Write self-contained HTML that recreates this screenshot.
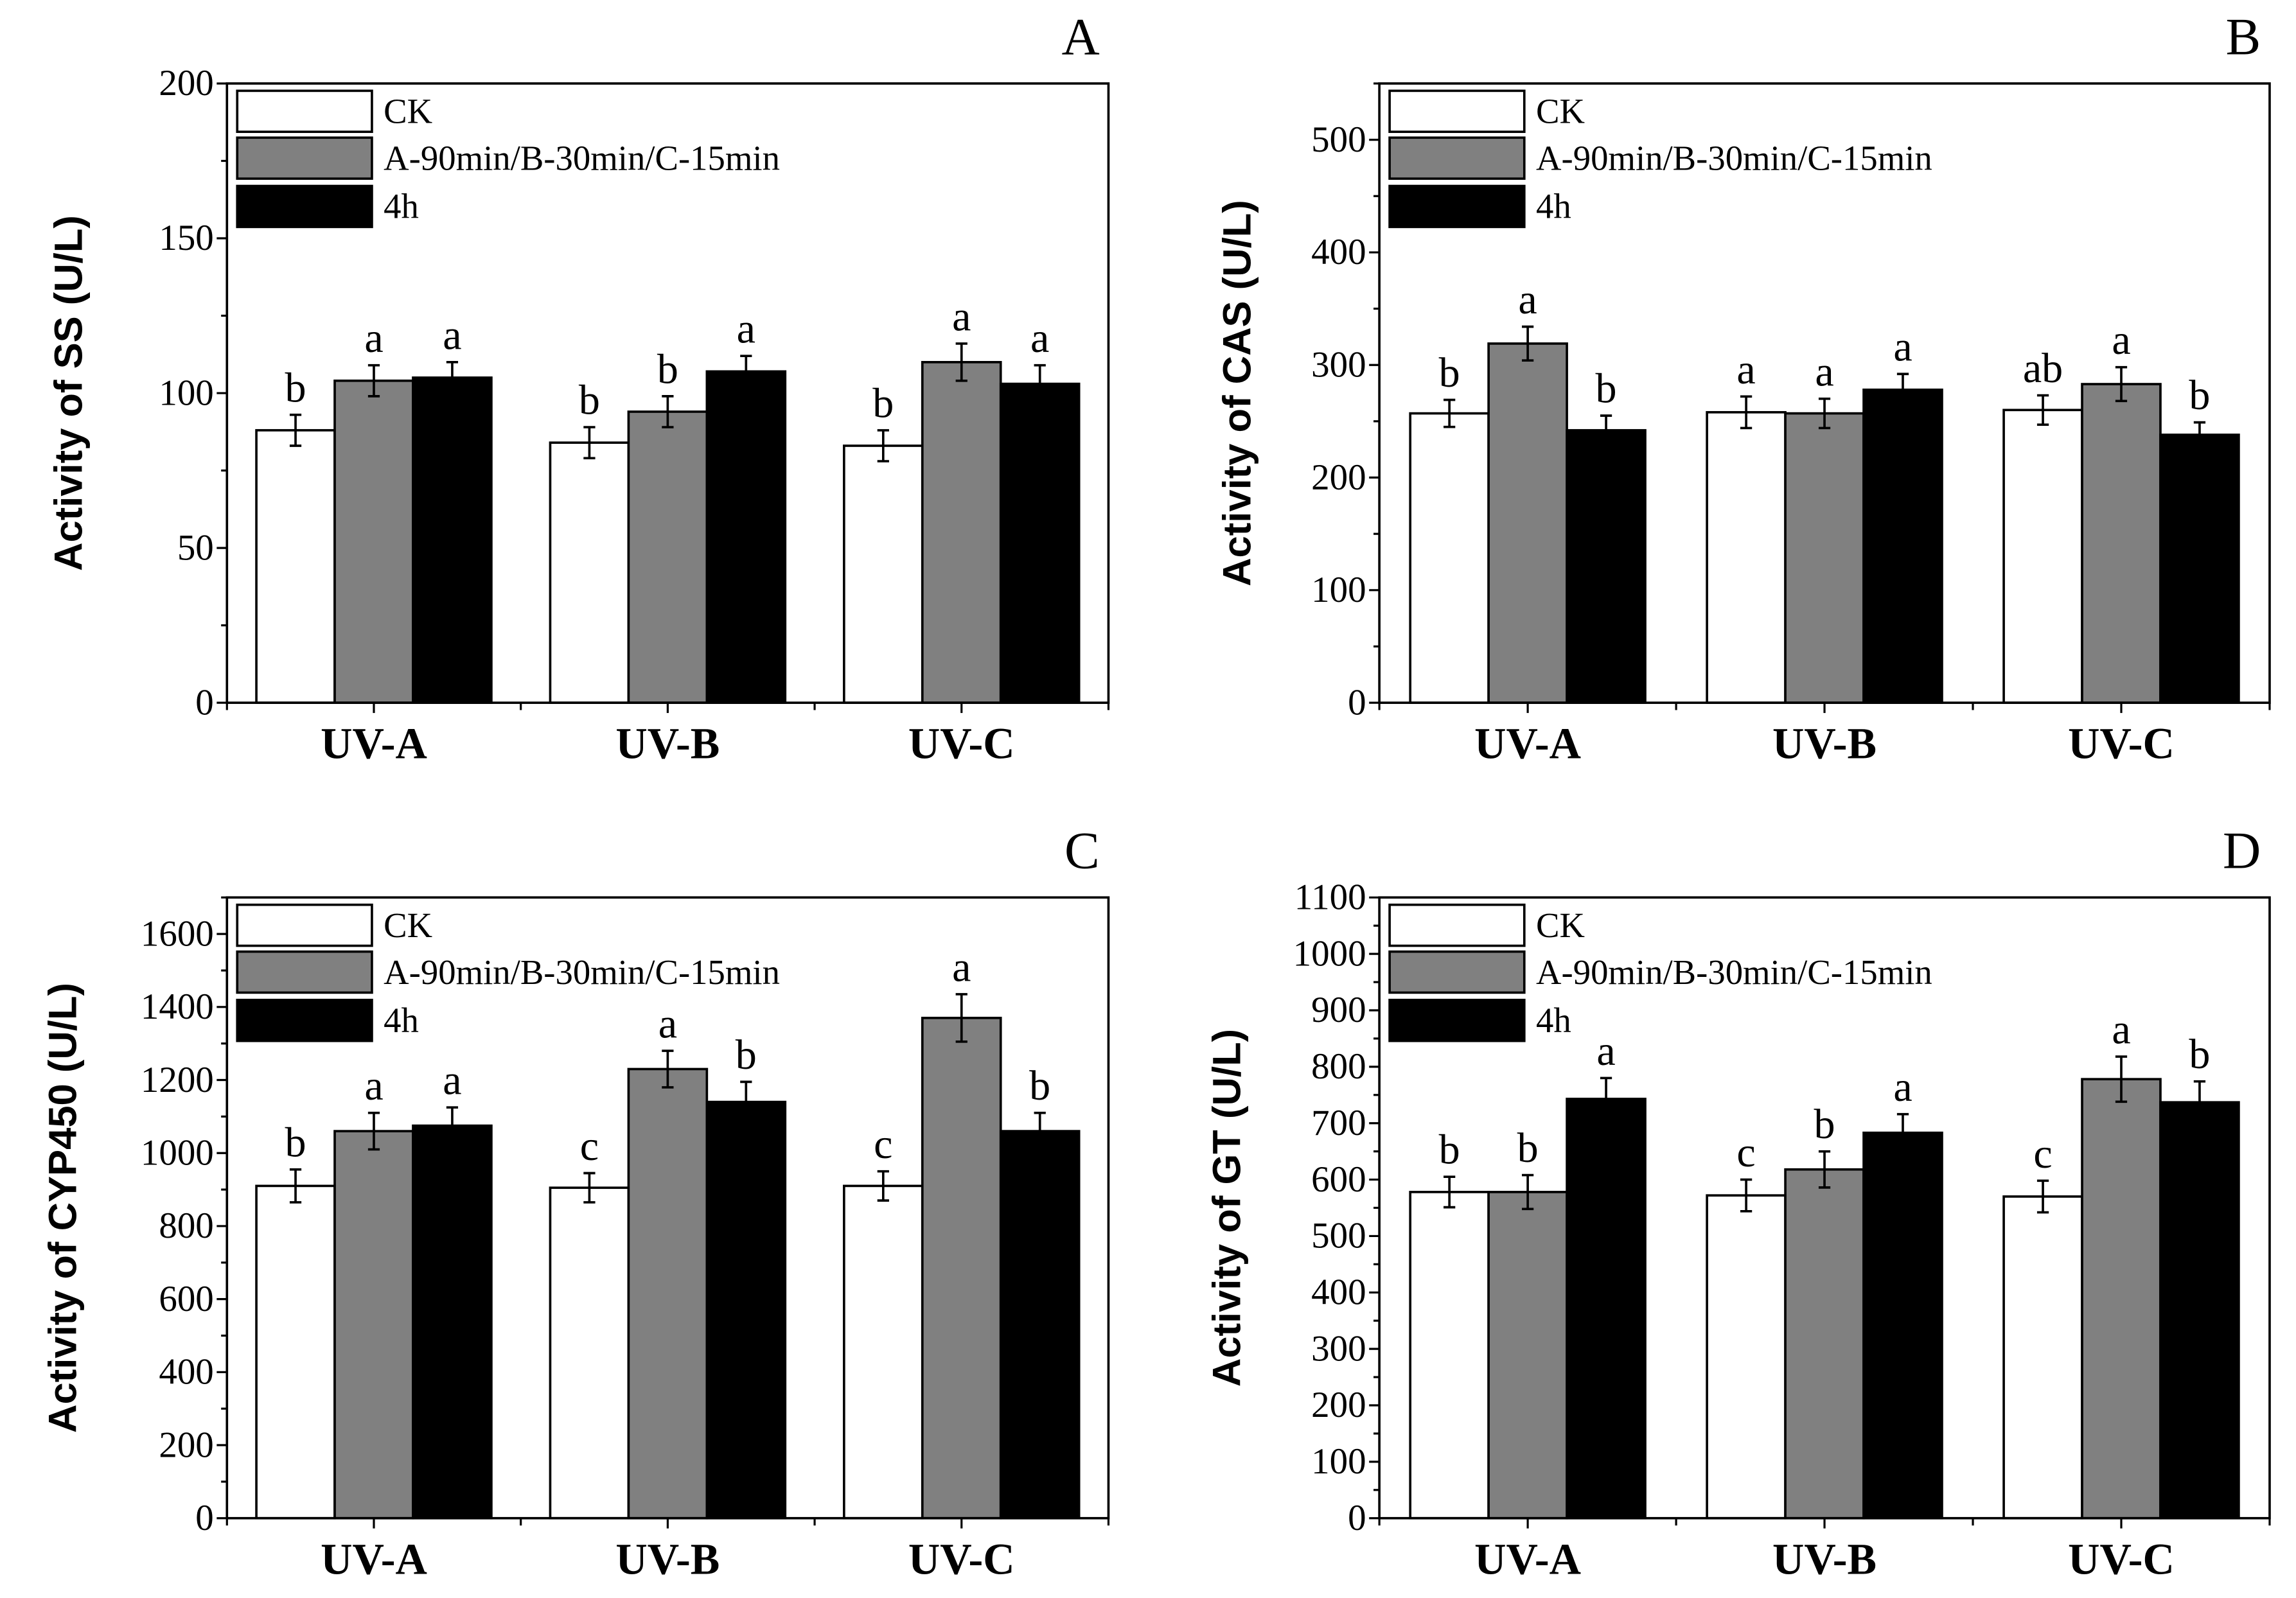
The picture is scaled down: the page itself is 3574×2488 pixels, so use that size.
<!DOCTYPE html>
<html><head><meta charset="utf-8"><style>
html,body{margin:0;padding:0;background:#fff}
svg{display:block}
text{font-family:"Liberation Serif",serif;fill:#000}
</style></head><body>
<svg id="fig" width="3574" height="2488" viewBox="0 0 1568 1091.5" xmlns="http://www.w3.org/2000/svg"></svg>
<script>
const categories = ["UV-A","UV-B","UV-C"];
const seriesNames = ["CK","A-90min/B-30min/C-15min","4h"];
// Panel A: SS
const ssCK = [88,84,83], ssMid = [104,94,110], ssH4 = [105,107,103];
const ssErr = [[5,5,5],[5,5,6],[5,5,6]];
const ssLet = [["b","b","b"],["a","b","a"],["a","a","a"]];
const ssTicks = [0,50,100,150,200];
// Panel B: CAS
const casCK = [257,258,260], casMid = [319,257,283], casH4 = [242,278,238];
const casErr = [[12,14,13],[15,13,15],[13,14,11]];
const casLet = [["b","a","ab"],["a","a","a"],["b","a","b"]];
const casTicks = [0,100,200,300,400,500];
// Panel C: CYP450
const cypCK = [910,905,910], cypMid = [1060,1230,1370], cypH4 = [1075,1140,1060];
const cypErr = [[45,40,40],[50,50,65],[50,55,50]];
const cypLet = [["b","c","c"],["a","a","a"],["a","b","b"]];
const cypTicks = [0,200,400,600,800,1000,1200,1400,1600];
// Panel D: GT
const gtCK = [578,572,570], gtMid = [578,618,778], gtH4 = [743,683,737];
const gtErr = [[27,28,28],[30,32,40],[37,33,37]];
const gtLet = [["b","c","c"],["b","b","a"],["a","a","b"]];
const gtTicks = [0,100,200,300,400,500,600,700,800,900,1000,1100];

const NS="http://www.w3.org/2000/svg";
const svg=document.getElementById('fig');
function mk(tag,attrs,parent){const e=document.createElementNS(NS,tag);for(const k in attrs)e.setAttribute(k,attrs[k]);(parent||svg).appendChild(e);return e;}

function panel(o){
  const g=mk('g',{});
  
  
  const {L,R,T,B,ymax}=o;
  const y=v=>B-(v/ymax)*(B-T);
  const cw=(R-L)/categories.length;
  const xc=i=>L+cw*(i+0.5);
  const bw=53.5;
  const fills=["#ffffff","#808080","#000000"];
  const vals=[o.ck,o.mid,o.h4];
  for(let s=0;s<3;s++){for(let i=0;i<3;i++){
    const x0=xc(i)-1.5*bw+s*bw, v=vals[s][i];
    const r=mk('rect',{x:x0,y:y(v),width:bw,height:B-y(v),fill:fills[s],stroke:'#000','stroke-width':1.6},g);
    
    
    const cx=x0+bw/2, e=o.err[s][i];
    const eb=mk('path',{d:`M${cx},${y(v+e)}V${y(v-e)}M${cx-4},${y(v+e)}H${cx+4}M${cx-4},${y(v-e)}H${cx+4}`,stroke:'#000','stroke-width':1.6,fill:'none'},g);
    
    
    const t=mk('text',{x:cx,y:y(v+e)-9,'text-anchor':'middle','font-size':29},g);
    t.textContent=o.lets[s][i];
    
    
  }}
  const f=mk('rect',{x:L,y:T,width:R-L,height:B-T,fill:'none',stroke:'#000','stroke-width':1.6},g);
  
  
  for(let v=0;v<=ymax+1e-9;v+=o.minor){
    const major=o.ticks.includes(v);
    mk('line',{x1:L,x2:L-(major?7:4),y1:y(v),y2:y(v),stroke:'#000','stroke-width':1.4},g);
  }
  o.ticks.forEach(v=>{
    const t=mk('text',{x:L-9,y:y(v)+8,'text-anchor':'end','font-size':25},g);
    t.textContent=v;
    
    
  });
  for(let i=0;i<=3;i++){mk('line',{x1:L+cw*i,x2:L+cw*i,y1:B,y2:B+5,stroke:'#000','stroke-width':1.4},g);}
  categories.forEach((c,i)=>{
    mk('line',{x1:xc(i),x2:xc(i),y1:B,y2:B+7,stroke:'#000','stroke-width':1.4},g);
    const t=mk('text',{x:xc(i),y:B+38,'text-anchor':'middle','font-size':30,'font-weight':'bold'},g);
    t.textContent=c;
    
    
  });
  const yt=mk('text',{x:0,y:0,'text-anchor':'middle','font-size':27,'font-weight':'bold',style:'font-family:"Liberation Sans",sans-serif',transform:`translate(${o.ytx},${(T+B)/2}) rotate(-90)`},g);
  yt.textContent=o.ylabel;
  
  
  const pl=mk('text',{x:R-6,y:T-20,'text-anchor':'end','font-size':36},g);
  pl.textContent=o.letter;
  
  
  const ly=[T+5,T+37,T+70];
  seriesNames.forEach((n,s)=>{
    const r=mk('rect',{x:L+7,y:ly[s],width:92,height:28,fill:fills[s],stroke:'#000','stroke-width':1.6},g);
    
    
    const t=mk('text',{x:L+107,y:ly[s]+22,'font-size':24},g);
    t.textContent=n;
    
    
  });
}
panel({id:'a',L:155,R:757,T:57,B:480,ymax:200,minor:25,ticks:ssTicks,ck:ssCK,mid:ssMid,h4:ssH4,err:ssErr,lets:ssLet,ylabel:'Activity of SS (U/L)',ytx:56,letter:'A'});
panel({id:'b',L:942,R:1550,T:57,B:480,ymax:550,minor:50,ticks:casTicks,ck:casCK,mid:casMid,h4:casH4,err:casErr,lets:casLet,ylabel:'Activity of CAS (U/L)',ytx:854,letter:'B'});
panel({id:'c',L:155,R:757,T:613,B:1037,ymax:1700,minor:100,ticks:cypTicks,ck:cypCK,mid:cypMid,h4:cypH4,err:cypErr,lets:cypLet,ylabel:'Activity of CYP450 (U/L)',ytx:52,letter:'C'});
panel({id:'d',L:942,R:1550,T:613,B:1037,ymax:1100,minor:50,ticks:gtTicks,ck:gtCK,mid:gtMid,h4:gtH4,err:gtErr,lets:gtLet,ylabel:'Activity of  GT (U/L)',ytx:847,letter:'D'});
</script>
</body></html>
